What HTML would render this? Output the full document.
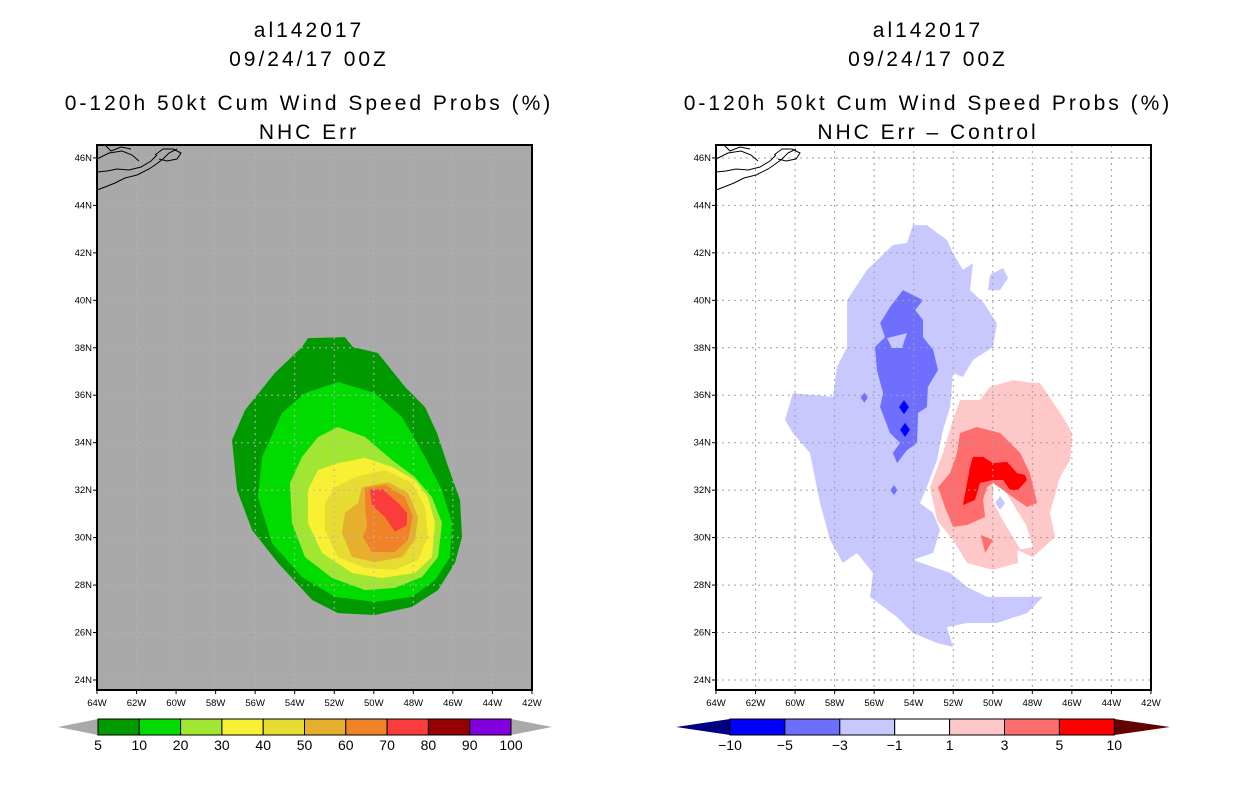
<!DOCTYPE html>
<html><head><meta charset="utf-8">
<style>
html,body{margin:0;padding:0;background:#fff;}
svg{display:block;}
text{font-family:"Liberation Sans",sans-serif;}
.title{font-size:21px;text-anchor:middle;fill:#000;letter-spacing:3px;}
.tick{font-size:9.5px;fill:#000;}
</style></head>
<body>
<svg id="chart" width="1236" height="800" viewBox="0 0 1236 800" xmlns="http://www.w3.org/2000/svg">
<g>
<text class="title" x="309" y="37">al142017</text>
<text class="title" x="309" y="66">09/24/17 00Z</text>
<text class="title" x="309" y="110">0-120h 50kt Cum Wind Speed Probs (%)</text>
<text class="title" x="309" y="139">NHC Err</text>
</g>
<g>
<text class="title" x="928" y="37">al142017</text>
<text class="title" x="928" y="66">09/24/17 00Z</text>
<text class="title" x="928" y="110">0-120h 50kt Cum Wind Speed Probs (%)</text>
<text class="title" x="928" y="139">NHC Err – Control</text>
</g>
<g id="left"></g>
<g id="right"></g>
<g id="cbars"></g>
</svg>
<script>
// ---- data ----
const lonTicks = [64,62,60,58,56,54,52,50,48,46,44,42];
const latTicks = [24,26,28,30,32,34,36,38,40,42,44,46];
const leftLevels = ["5","10","20","30","40","50","60","70","80","90","100"];
const leftColors = ["#009900","#00dc00","#a0e632","#f8f032","#e6dc32","#e6af2d","#f08228","#fa3c3c","#960000","#8200dc"];
const rightLevels = ["−10","−5","−3","−1","1","3","5","10"];
const rightColors = ["#0000ff","#6e6eff","#c8c8ff","#ffffff","#ffc8c8","#ff6e6e","#ff0000"];
// contours [W lon, N lat]
const p5 = [[53.33,38.41],[51.46,38.45],[51.05,38.03],[49.79,37.78],[48.42,36.35],[47.41,35.5],[46.8,34.41],[46.3,33.14],[45.64,31.59],[45.54,30.03],[45.89,28.93],[46.75,27.79],[48.07,27.08],[49.94,26.74],[51.81,26.82],[53.12,27.37],[54.84,28.93],[56.16,30.32],[56.92,32.01],[57.17,34.11],[56.51,35.38],[55.0,36.94],[53.63,38.03]];
const p10 = [[51.81,36.56],[49.94,36.09],[48.57,35.08],[47.41,33.4],[46.55,32.0],[46.04,30.62],[46.14,29.18],[46.9,28.21],[48.07,27.5],[49.94,27.29],[51.96,27.5],[53.63,28.34],[55.15,29.77],[55.86,31.71],[55.65,33.4],[54.64,35.25],[53.48,36.09]];
const p20 = [[51.81,34.66],[50.44,34.24],[49.08,33.27],[47.92,32.55],[47.06,31.71],[46.55,30.62],[46.75,29.18],[47.56,28.34],[48.93,27.88],[50.44,27.79],[52.11,28.3],[53.48,29.18],[54.14,30.62],[54.24,32.3],[53.63,33.4],[52.82,34.24]];
const p30 = [[51.81,33.14],[50.44,33.36],[49.08,32.98],[47.92,32.43],[47.26,31.71],[46.9,30.62],[47.06,29.18],[47.92,28.51],[49.58,28.3],[51.1,28.51],[52.62,29.35],[53.33,30.62],[53.33,32.01],[52.82,32.85]];
const p40 = [[50.95,32.55],[49.43,32.85],[48.07,32.3],[47.41,31.29],[47.26,30.03],[47.76,29.06],[48.93,28.64],[50.44,28.72],[51.81,29.18],[52.47,30.32],[52.47,31.46],[51.96,32.13]];
const p50 = [[50.6,32.13],[49.28,32.34],[48.27,31.88],[47.76,30.87],[47.92,29.9],[48.57,29.18],[49.94,28.97],[51.1,29.18],[51.61,30.19],[51.46,31.04],[50.8,31.46]];
const p60 = [[50.44,32.09],[49.43,32.22],[48.42,31.71],[48.02,30.87],[48.27,29.9],[48.93,29.39],[50.09,29.39],[50.55,30.03],[50.34,30.45],[50.44,31.29]];
const p70 = [[50.19,32.01],[49.58,32.05],[48.77,31.46],[48.32,31.04],[48.32,30.53],[48.93,30.24],[49.43,30.87],[50.09,31.37]];
const nLight = [[54.04,43.17],[53.33,43.17],[52.32,42.54],[52.01,41.99],[51.51,41.28],[51.0,41.57],[51.15,40.43],[50.49,39.93],[49.79,39.04],[49.99,38.03],[51.0,37.49],[51.51,36.77],[52.01,36.94],[52.16,35.5],[52.52,34.54],[52.82,33.27],[53.33,32.13],[53.68,31.46],[53.02,31.04],[52.67,30.32],[53.02,29.35],[54.04,29.06],[53.33,28.85],[52.16,28.51],[51.3,27.92],[50.29,27.5],[48.98,27.5],[47.46,27.5],[48.27,26.82],[49.79,26.4],[51.3,26.4],[52.32,26.23],[52.01,25.39],[52.82,25.56],[54.04,25.98],[54.84,26.65],[56.21,27.5],[56.06,28.51],[56.87,29.35],[57.58,28.93],[58.23,29.9],[58.74,31.46],[59.25,33.57],[60.11,34.41],[60.51,34.96],[60.11,36.09],[58.08,35.93],[57.88,37.19],[57.37,38.03],[57.37,40.01],[56.36,41.28],[55.05,42.33],[54.34,42.42]];
const nBlob = [[50.14,41.07],[49.48,41.36],[49.23,40.94],[49.63,40.43],[50.24,40.43]];
const nMed = [[54.54,40.43],[53.53,40.01],[53.93,39.59],[53.53,39.17],[53.53,38.45],[53.02,37.91],[52.77,37.06],[53.28,36.35],[53.33,35.5],[53.78,35.25],[53.83,33.99],[54.34,33.69],[54.84,33.14],[55.05,33.57],[54.69,33.99],[55.2,34.41],[55.7,35.5],[55.55,36.09],[55.86,37.06],[55.96,38.03],[55.45,38.45],[55.7,39.04],[55.2,39.72]];
const nMedHole = [[55.35,38.41],[54.34,38.62],[54.59,37.99],[55.1,37.99]];
const nDark = [[54.49,35.5],[54.44,34.54]];
const nMedDots = [[56.5,35.9],[55.0,32.0]];
const pPink = [[51.66,35.8],[50.65,35.8],[50.14,36.35],[48.98,36.64],[47.97,36.52],[47.61,36.52],[46.45,35.08],[45.99,34.41],[46.09,33.27],[46.6,32.55],[47.11,31.04],[46.85,30.03],[47.97,29.18],[48.77,29.48],[48.72,28.93],[49.99,28.64],[51.3,28.93],[52.01,29.9],[52.82,30.74],[53.18,32.13],[52.52,33.57],[52.01,34.96]];
const pHole = [[49.99,32.3],[49.4,32.0],[48.3,30.5],[47.97,29.6],[48.6,29.5],[49.4,30.6],[49.99,31.5]];
const pRed = [[51.66,34.41],[50.8,34.66],[49.63,34.41],[48.62,33.57],[48.12,32.72],[47.76,31.46],[48.27,31.29],[49.28,31.88],[49.99,32.3],[50.29,32.13],[50.49,31.59],[50.39,30.87],[51.3,30.53],[52.01,30.45],[52.42,31.29],[52.77,32.13],[52.16,32.72],[51.81,33.57]];
const pRedSmall = [[50.6,30.11],[49.99,29.9],[50.39,29.35]];
const pBright = [[51.0,33.4],[50.49,33.4],[49.99,33.14],[49.28,33.19],[48.77,32.72],[48.37,32.64],[48.27,32.43],[48.72,32.01],[49.13,32.01],[49.48,32.43],[49.99,32.43],[50.65,32.3],[50.9,31.59],[51.51,31.37],[51.3,32.3],[51.15,32.98]];
const blueDot = [[49.63,31.46]];

// ---- axes ----
const PY0=145, PY1=690;
function xs(x0){return w => x0 + (64-w)*19.77;}
function ys(n){return 680 - (n-24)*23.73;}
const NS="http://www.w3.org/2000/svg";
function mk(tag, parent, attrs){const e=document.createElementNS(NS,tag);for(const k in attrs)e.setAttribute(k,attrs[k]);parent.appendChild(e);return e;}
function poly(g, xf, pts, fill, name){
  const e=mk('polygon',g,{points:pts.map(p=>xf(p[0]).toFixed(1)+','+ys(p[1]).toFixed(1)).join(' '),fill:fill});
  
  
}
function diamond(g,xf,p,r,fill,name){
  const cx=xf(p[0]),cy=ys(p[1]);
  const e=mk('polygon',g,{points:`${cx},${cy-r} ${cx+r*0.7},${cy} ${cx},${cy+r} ${cx-r*0.7},${cy}`,fill:fill});
  
  
}
const coast = [
 [[0,45],[8,42],[18,38],[28,33],[40,30],[52,24],[58,20],[66,14],[72,8],[80,4]],
 [[0,27],[10,26],[20,24],[32,25],[44,22],[54,16],[60,10]],
 [[0,14],[12,8],[25,6],[35,10],[42,16]],
 [[58,10],[66,4],[76,4],[84,8],[80,14],[70,16],[62,14]],
 [[8,0],[14,6],[24,2],[34,4]]
];
function panel(gid, x0, bg){
  const g=document.getElementById(gid), xf=xs(x0);
  const bgR=mk('rect',g,{x:x0,y:PY0,width:435,height:PY1-PY0,fill:bg});
  
  
  return {g,xf};
}
function finish(g,xf,x0,grid){
  const gg=mk('g',g,{});
  
  
  lonTicks.forEach(w=>{const x=xf(w); if(x>x0+2&&x<x0+433) mk('line',gg,{x1:x,x2:x,y1:PY0,y2:PY1,stroke:grid,'stroke-dasharray':'2,4','stroke-width':1});});
  latTicks.forEach(n=>{const y=ys(n); if(y>PY0+2&&y<PY1-2) mk('line',gg,{x1:x0,x2:x0+435,y1:y,y2:y,stroke:grid,'stroke-dasharray':'2,4','stroke-width':1});});
  coast.forEach(l=>{const e=mk('polyline',g,{points:l.map(p=>(x0+p[0])+','+(PY0+p[1])).join(' '),fill:'none',stroke:'#000','stroke-width':1});
    
    });
  const fr=mk('rect',g,{x:x0,y:PY0,width:435,height:PY1-PY0,fill:'none',stroke:'#000','stroke-width':2});
  
  
  lonTicks.forEach(w=>{const x=xf(w);
    mk('line',g,{x1:x,x2:x,y1:PY1,y2:PY1+4,stroke:'#000'});
    const t=mk('text',g,{x:x,y:PY1+16,'text-anchor':'middle',class:'tick'});t.textContent=w+'W';
    
    });
  latTicks.forEach(n=>{const y=ys(n);
    mk('line',g,{x1:x0-4,x2:x0,y1:y,y2:y,stroke:'#000'});
    const t=mk('text',g,{x:x0-5,y:y+3,'text-anchor':'end',class:'tick'});t.textContent=n+'N';
    
    });
}
// left
let L=panel('left',97,'#a9a9a9');
[[p5,0],[p10,1],[p20,2],[p30,3],[p40,4],[p50,5],[p60,6],[p70,7]].forEach(([p,i])=>poly(L.g,L.xf,p,leftColors[i],'prob-contour-'+leftLevels[i]));
finish(L.g,L.xf,97,'#b4b4b4');
// right
let R=panel('right',716,'#ffffff');
poly(R.g,R.xf,nLight,rightColors[2],'diff-neg-1-3');
poly(R.g,R.xf,nBlob,rightColors[2],'diff-neg-blob');
poly(R.g,R.xf,nMed,rightColors[1],'diff-neg-3-5');
poly(R.g,R.xf,nMedHole,rightColors[2],'diff-neg-hole');
nDark.forEach(p=>diamond(R.g,R.xf,p,7,rightColors[0],'diff-neg-5-10'));
nMedDots.forEach(p=>diamond(R.g,R.xf,p,5,rightColors[1],'diff-neg-dot'));
poly(R.g,R.xf,pPink,rightColors[4],'diff-pos-1-3');
poly(R.g,R.xf,pHole,'#ffffff','diff-pos-hole');
poly(R.g,R.xf,pRed,rightColors[5],'diff-pos-3-5');
poly(R.g,R.xf,pRedSmall,rightColors[5],'diff-pos-small');
poly(R.g,R.xf,pBright,rightColors[6],'diff-pos-5-10');
blueDot.forEach(p=>diamond(R.g,R.xf,p,7,rightColors[2],'diff-neg-dot'));
finish(R.g,R.xf,716,'#a0a0a0');

// colorbars
const cb=document.getElementById('cbars');
function cbar(x0,bw,colors,labels,tipL,tipR,tipLx,tipRx,name){
  const g=mk('g',cb,{});
  
  
  const y0=719,y1=735,ym=727,x1=x0+bw*colors.length;
  mk('polygon',g,{points:`${tipLx},${ym} ${x0},${y0} ${x0},${y1}`,fill:tipL});
  mk('polygon',g,{points:`${tipRx},${ym} ${x1},${y0} ${x1},${y1}`,fill:tipR});
  colors.forEach((c,i)=>{const r=mk('rect',g,{x:x0+i*bw,y:y0,width:bw,height:y1-y0,fill:c,stroke:'#000','stroke-width':1});
    
    });
  labels.forEach((l,i)=>{const t=mk('text',g,{x:x0+i*bw,y:750,'text-anchor':'middle','font-size':'14px'});t.textContent=l;
    
    });
}
cbar(98,41.3,leftColors,leftLevels,'#a9a9a9','#a9a9a9',58,552,'left-colorbar');
cbar(730,54.9,rightColors,rightLevels,'#000080','#640000',676,1170,'right-colorbar');
</script>
</body></html>
